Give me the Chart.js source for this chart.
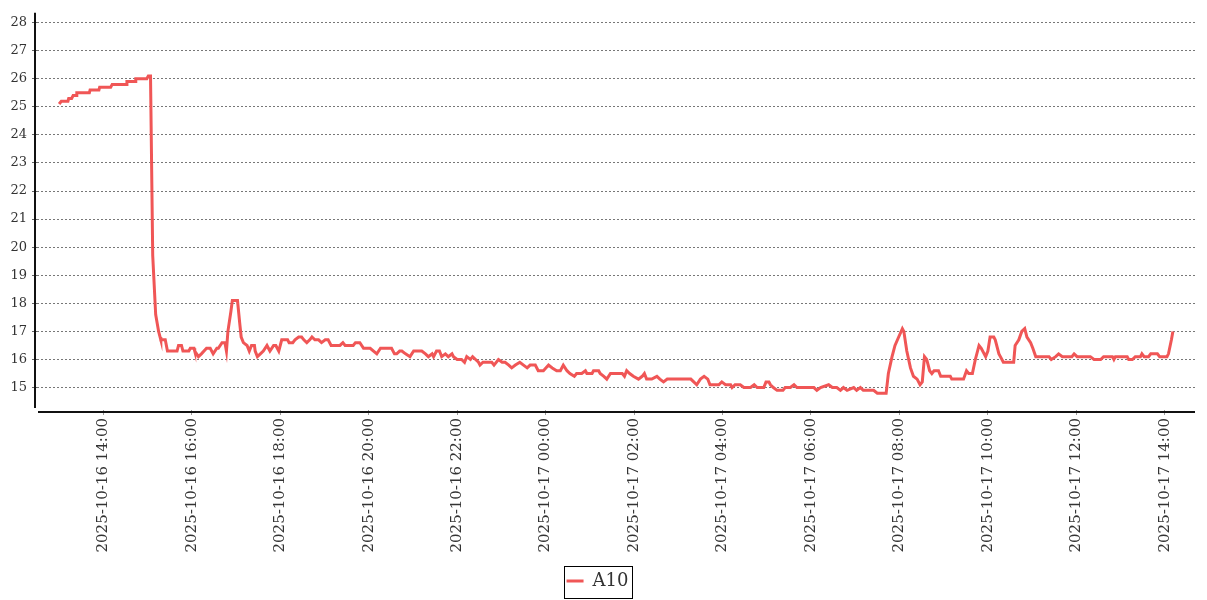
<!DOCTYPE html>
<html>
<head>
<meta charset="utf-8">
<script src="https://cdn.jsdelivr.net/npm/chart.js@4.4.1/dist/chart.umd.min.js"></script>
<style>
html,body{margin:0;padding:0;background:#fff;}
#wrap{width:1207px;height:600px;position:relative;}
</style>
</head>
<body>
<div id="wrap"><canvas id="c"></canvas></div>
<script>
const seriesName = 'A10';

const times = [
'2025-10-16 13:00','2025-10-16 13:03','2025-10-16 13:12','2025-10-16 13:13','2025-10-16 13:17','2025-10-16 13:19',
'2025-10-16 13:23','2025-10-16 13:24','2025-10-16 13:41','2025-10-16 13:42','2025-10-16 13:54','2025-10-16 13:55',
'2025-10-16 14:10','2025-10-16 14:12','2025-10-16 14:31','2025-10-16 14:32','2025-10-16 14:43','2025-10-16 14:44',
'2025-10-16 14:59','2025-10-16 15:01','2025-10-16 15:04','2025-10-16 15:07','2025-10-16 15:11','2025-10-16 15:15',
'2025-10-16 15:17','2025-10-16 15:18','2025-10-16 15:24','2025-10-16 15:27','2025-10-16 15:40','2025-10-16 15:42',
'2025-10-16 15:46','2025-10-16 15:48','2025-10-16 15:56','2025-10-16 15:58','2025-10-16 16:03','2025-10-16 16:04',
'2025-10-16 16:09','2025-10-16 16:13','2025-10-16 16:20','2025-10-16 16:25','2025-10-16 16:29','2025-10-16 16:34',
'2025-10-16 16:36','2025-10-16 16:41','2025-10-16 16:45','2025-10-16 16:47','2025-10-16 16:49','2025-10-16 16:53',
'2025-10-16 16:55','2025-10-16 17:02','2025-10-16 17:05','2025-10-16 17:07','2025-10-16 17:10','2025-10-16 17:15',
'2025-10-16 17:18','2025-10-16 17:21','2025-10-16 17:25','2025-10-16 17:26','2025-10-16 17:29','2025-10-16 17:33',
'2025-10-16 17:37','2025-10-16 17:42','2025-10-16 17:46','2025-10-16 17:51','2025-10-16 17:54','2025-10-16 17:58',
'2025-10-16 18:02','2025-10-16 18:10','2025-10-16 18:12','2025-10-16 18:17','2025-10-16 18:20','2025-10-16 18:25',
'2025-10-16 18:29','2025-10-16 18:32','2025-10-16 18:36','2025-10-16 18:40','2025-10-16 18:43','2025-10-16 18:47',
'2025-10-16 18:52','2025-10-16 18:56','2025-10-16 19:01','2025-10-16 19:05','2025-10-16 19:09','2025-10-16 19:21',
'2025-10-16 19:25','2025-10-16 19:28','2025-10-16 19:39','2025-10-16 19:42','2025-10-16 19:48','2025-10-16 19:53',
'2025-10-16 20:02','2025-10-16 20:11','2025-10-16 20:16','2025-10-16 20:31','2025-10-16 20:35','2025-10-16 20:38',
'2025-10-16 20:42','2025-10-16 20:45','2025-10-16 20:50','2025-10-16 20:56','2025-10-16 21:01','2025-10-16 21:12',
'2025-10-16 21:17','2025-10-16 21:21','2025-10-16 21:26','2025-10-16 21:28','2025-10-16 21:32','2025-10-16 21:36',
'2025-10-16 21:39','2025-10-16 21:44','2025-10-16 21:48','2025-10-16 21:53','2025-10-16 21:55','2025-10-16 22:00',
'2025-10-16 22:06','2025-10-16 22:10','2025-10-16 22:13','2025-10-16 22:18','2025-10-16 22:21','2025-10-16 22:25',
'2025-10-16 22:29','2025-10-16 22:31','2025-10-16 22:35','2025-10-16 22:47','2025-10-16 22:50','2025-10-16 22:56',
'2025-10-16 23:01','2025-10-16 23:05','2025-10-16 23:10','2025-10-16 23:14','2025-10-16 23:19','2025-10-16 23:25',
'2025-10-16 23:30','2025-10-16 23:35','2025-10-16 23:39','2025-10-16 23:46','2025-10-16 23:50','2025-10-16 23:57',
'2025-10-17 00:04','2025-10-17 00:09','2025-10-17 00:15','2025-10-17 00:20','2025-10-17 00:24','2025-10-17 00:29',
'2025-10-17 00:33','2025-10-17 00:39','2025-10-17 00:42','2025-10-17 00:49','2025-10-17 00:54','2025-10-17 00:56',
'2025-10-17 01:03','2025-10-17 01:05','2025-10-17 01:12','2025-10-17 01:14','2025-10-17 01:19','2025-10-17 01:23',
'2025-10-17 01:28','2025-10-17 01:37','2025-10-17 01:44','2025-10-17 01:47','2025-10-17 01:50','2025-10-17 01:54',
'2025-10-17 01:59','2025-10-17 02:06','2025-10-17 02:11','2025-10-17 02:14','2025-10-17 02:17','2025-10-17 02:24',
'2025-10-17 02:31','2025-10-17 02:35','2025-10-17 02:40','2025-10-17 02:45','2025-10-17 03:17','2025-10-17 03:21',
'2025-10-17 03:25','2025-10-17 03:30','2025-10-17 03:35','2025-10-17 03:40','2025-10-17 03:43','2025-10-17 03:55',
'2025-10-17 03:59','2025-10-17 04:04','2025-10-17 04:11','2025-10-17 04:13','2025-10-17 04:17','2025-10-17 04:24',
'2025-10-17 04:29','2025-10-17 04:38','2025-10-17 04:43','2025-10-17 04:47','2025-10-17 04:56','2025-10-17 04:59',
'2025-10-17 05:03','2025-10-17 05:05','2025-10-17 05:09','2025-10-17 05:14','2025-10-17 05:22','2025-10-17 05:25',
'2025-10-17 05:32','2025-10-17 05:37','2025-10-17 05:41','2025-10-17 06:04','2025-10-17 06:08','2025-10-17 06:13',
'2025-10-17 06:24','2025-10-17 06:29','2025-10-17 06:35','2025-10-17 06:40','2025-10-17 06:44','2025-10-17 06:49',
'2025-10-17 06:58','2025-10-17 07:02','2025-10-17 07:07','2025-10-17 07:11','2025-10-17 07:25','2025-10-17 07:30',
'2025-10-17 07:42','2025-10-17 07:45','2025-10-17 07:50','2025-10-17 07:54','2025-10-17 07:59','2025-10-17 08:04',
'2025-10-17 08:06','2025-10-17 08:10','2025-10-17 08:15','2025-10-17 08:19','2025-10-17 08:24','2025-10-17 08:28',
'2025-10-17 08:31','2025-10-17 08:34','2025-10-17 08:37','2025-10-17 08:41','2025-10-17 08:44','2025-10-17 08:47',
'2025-10-17 08:53','2025-10-17 08:56','2025-10-17 09:09','2025-10-17 09:11','2025-10-17 09:27','2025-10-17 09:31',
'2025-10-17 09:34','2025-10-17 09:39','2025-10-17 09:43','2025-10-17 09:48','2025-10-17 09:51','2025-10-17 09:57',
'2025-10-17 10:00','2025-10-17 10:03','2025-10-17 10:08','2025-10-17 10:10','2025-10-17 10:15','2025-10-17 10:17',
'2025-10-17 10:21','2025-10-17 10:35','2025-10-17 10:37','2025-10-17 10:42','2025-10-17 10:46','2025-10-17 10:50',
'2025-10-17 10:53','2025-10-17 10:58','2025-10-17 11:01','2025-10-17 11:05','2025-10-17 11:23','2025-10-17 11:26',
'2025-10-17 11:32','2025-10-17 11:36','2025-10-17 11:41','2025-10-17 11:54','2025-10-17 11:57','2025-10-17 12:01',
'2025-10-17 12:19','2025-10-17 12:24','2025-10-17 12:33','2025-10-17 12:37','2025-10-17 12:49','2025-10-17 12:51',
'2025-10-17 12:53','2025-10-17 13:09','2025-10-17 13:11','2025-10-17 13:16','2025-10-17 13:20','2025-10-17 13:27',
'2025-10-17 13:29','2025-10-17 13:32','2025-10-17 13:38','2025-10-17 13:41','2025-10-17 13:50','2025-10-17 13:53',
'2025-10-17 14:03','2025-10-17 14:05','2025-10-17 14:09','2025-10-17 14:11'
];

const values = [
25.1,25.2,25.2,25.3,25.3,25.4,
25.4,25.5,25.5,25.6,25.6,25.7,
25.7,25.8,25.8,25.9,25.9,26.0,
26.0,26.1,26.1,19.7,17.6,17.0,
16.8,16.7,16.7,16.3,16.3,16.5,
16.5,16.3,16.3,16.4,16.4,16.3,
16.1,16.2,16.4,16.4,16.2,16.4,
16.4,16.6,16.6,16.3,17.0,17.7,
18.1,18.1,17.3,16.8,16.6,16.5,
16.3,16.5,16.5,16.3,16.1,16.2,
16.3,16.5,16.3,16.5,16.5,16.3,
16.7,16.7,16.6,16.6,16.7,16.8,
16.8,16.7,16.6,16.7,16.8,16.7,
16.7,16.6,16.7,16.7,16.5,16.5,
16.6,16.5,16.5,16.6,16.6,16.4,
16.4,16.2,16.4,16.4,16.2,16.2,
16.3,16.3,16.2,16.1,16.3,16.3,
16.2,16.1,16.2,16.1,16.3,16.3,
16.1,16.2,16.1,16.2,16.1,16.0,
16.0,15.9,16.1,16.0,16.1,16.0,
15.9,15.8,15.9,15.9,15.8,16.0,
15.9,15.9,15.8,15.7,15.8,15.9,
15.8,15.7,15.8,15.8,15.6,15.6,
15.8,15.7,15.6,15.6,15.8,15.6,
15.5,15.4,15.5,15.5,15.6,15.5,
15.5,15.6,15.6,15.5,15.4,15.3,
15.5,15.5,15.5,15.4,15.6,15.5,
15.4,15.3,15.4,15.5,15.3,15.3,
15.4,15.3,15.2,15.3,15.3,15.2,
15.1,15.3,15.4,15.3,15.1,15.1,
15.2,15.1,15.1,15.0,15.1,15.1,
15.0,15.0,15.1,15.0,15.0,15.2,
15.2,15.1,15.0,14.9,14.9,15.0,
15.0,15.1,15.0,15.0,14.9,15.0,
15.1,15.0,15.0,14.9,15.0,14.9,
15.0,14.9,15.0,14.9,14.9,14.8,
14.8,15.5,16.1,16.5,16.8,17.1,
17.0,16.3,15.7,15.4,15.3,15.1,
15.2,16.1,16.0,15.6,15.5,15.6,
15.6,15.4,15.4,15.3,15.3,15.6,
15.5,15.5,16.0,16.5,16.4,16.1,
16.3,16.8,16.8,16.7,16.2,16.1,
15.9,15.9,16.5,16.7,17.0,17.1,
16.8,16.6,16.4,16.1,16.1,16.0,
16.1,16.2,16.1,16.1,16.2,16.1,
16.1,16.0,16.0,16.1,16.1,16.0,
16.1,16.1,16.0,16.0,16.1,16.1,
16.2,16.1,16.1,16.2,16.2,16.1,
16.1,16.2,16.7,17.0
];

const yTickValues = [15,16,17,18,19,20,21,22,23,24,25,26,27,28];
const xTickLabels = [
'2025-10-16 14:00','2025-10-16 16:00','2025-10-16 18:00','2025-10-16 20:00','2025-10-16 22:00',
'2025-10-17 00:00','2025-10-17 02:00','2025-10-17 04:00','2025-10-17 06:00','2025-10-17 08:00',
'2025-10-17 10:00','2025-10-17 12:00','2025-10-17 14:00'
];
const yMin = 14.2, yMax = 28.35;
const xPadMinutes = 30;

function toMin(s) {
  const d = parseInt(s.slice(8, 10), 10);
  const h = parseInt(s.slice(11, 13), 10);
  const m = parseInt(s.slice(14, 16), 10);
  return (d - 16) * 1440 + h * 60 + m;
}
function pad(n) { return String(n).padStart(2, '0'); }
function fmt(mins) {
  const d = 16 + Math.floor(mins / 1440);
  const r = mins - (d - 16) * 1440;
  return '2025-10-' + pad(d) + ' ' + pad(Math.floor(r / 60)) + ':' + pad(r % 60);
}

const points = times.map((t, i) => ({ x: toMin(t), y: values[i] }));
const xMin = toMin(times[0]) - xPadMinutes;
const xMax = toMin(times[times.length - 1]) + xPadMinutes;

const decor = {
  id: 'decor',
  afterDraw(chart) {
    const { ctx, chartArea: a } = chart;
    ctx.save();
    ctx.strokeStyle = '#111';
    ctx.lineWidth = 2;
    ctx.beginPath();
    ctx.moveTo(a.left - 2, a.top);
    ctx.lineTo(a.left - 2, a.bottom - 2);
    ctx.stroke();
    ctx.beginPath();
    ctx.moveTo(a.left + 1, a.bottom + 2);
    ctx.lineTo(a.right, a.bottom + 2);
    ctx.stroke();
    const hb = chart.legend && chart.legend.legendHitBoxes && chart.legend.legendHitBoxes[0];
    if (hb) {
      ctx.lineWidth = 1;
      ctx.strokeStyle = '#000';
      ctx.strokeRect(Math.round(hb.left) - 2.5, Math.round(hb.top) - 5.5, Math.round(hb.width) + 6, 32);
    }
    ctx.restore();
  }
};

new Chart(document.getElementById('c'), {
  type: 'line',
  data: {
    datasets: [{
      label: seriesName,
      data: points,
      borderColor: '#f05656',
      backgroundColor: '#f05656',
      borderWidth: 3,
      pointRadius: 0,
      pointHoverRadius: 0,
      pointStyle: 'line',
      tension: 0,
      fill: false
    }]
  },
  options: {
    responsive: true,
    maintainAspectRatio: false,
    animation: false,
    devicePixelRatio: 1,
    layout: { padding: { top: 10, right: 12, left: 0, bottom: 0 } },
    plugins: {
      tooltip: { enabled: false },
      legend: {
        position: 'bottom',
        labels: {
          usePointStyle: true,
          pointStyleWidth: 17,
          color: '#333',
          padding: 10,
          font: { family: 'DejaVu Serif', size: 18 }
        }
      }
    },
    scales: {
      x: {
        type: 'linear',
        min: xMin,
        max: xMax,
        border: { display: false },
        grid: {
          display: true,
          drawOnChartArea: false,
          drawTicks: true,
          tickLength: 5,
          tickColor: '#999'
        },
        afterBuildTicks(scale) {
          scale.ticks = xTickLabels.map(t => ({ value: toMin(t) }));
        },
        afterFit(scale) { scale.height = 152; },
        ticks: {
          autoSkip: false,
          minRotation: 90,
          maxRotation: 90,
          padding: 3,
          color: '#333',
          font: { family: 'DejaVu Serif', size: 15 },
          callback: (v) => fmt(v)
        }
      },
      y: {
        type: 'linear',
        min: yMin,
        max: yMax,
        border: { display: false, dash: [2, 2] },
        grid: {
          color: '#777',
          lineWidth: 1,
          tickBorderDash: [],
          tickColor: '#666',
          tickLength: 5
        },
        afterBuildTicks(scale) {
          scale.ticks = yTickValues.map(v => ({ value: v }));
        },
        afterFit(scale) { scale.width = 37; },
        ticks: {
          padding: 5,
          color: '#333',
          font: { family: 'DejaVu Serif', size: 13 }
        }
      }
    }
  },
  plugins: [decor]
});
</script>
</body>
</html>
